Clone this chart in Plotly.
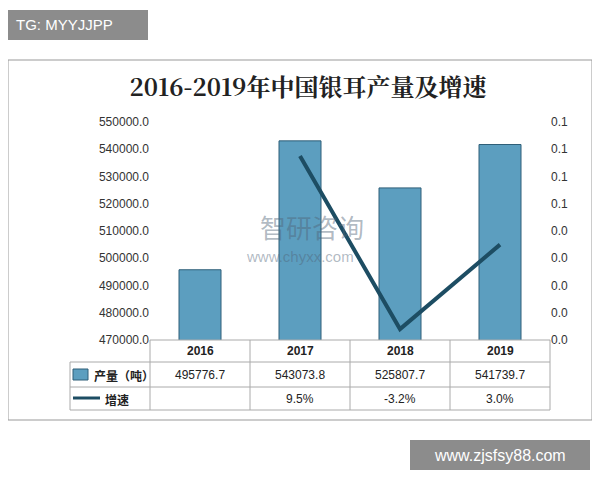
import plotly.graph_objects as go

years = ["2016", "2017", "2018", "2019"]
output = [495776.7, 543073.8, 525807.7, 541739.7]
growth_years = ["2017", "2018", "2019"]
growth = [0.095, -0.032, 0.030]
growth_labels = ["9.5%", "-3.2%", "3.0%"]
left_ticks = [470000 + 10000 * i for i in range(9)]
right_ticks = [-0.04 + 0.02 * i for i in range(9)]
right_ticktext = ["0.0"] * 5 + ["0.1"] * 4

# reference pixel coordinates (page has 8px body offset)
L, R, T, B = 150, 550, 122, 340
def px(x): return (x - L) / (R - L)
def py(y): return (B - y) / (B - T)

fig = go.Figure()
fig.add_bar(x=years, y=output, width=0.42, marker=dict(color="#5c9ebf", line=dict(color="#2f5f78", width=1)), showlegend=False)
fig.add_scatter(x=growth_years, y=growth, yaxis="y2", mode="lines", line=dict(color="#1d4d63", width=4), showlegend=False)

fig.update_layout(
    width=600, height=480, paper_bgcolor="white", plot_bgcolor="white",
    margin=dict(l=L - 8, r=600 - (R - 8), t=T - 8, b=480 - (B - 8)),
    xaxis=dict(showticklabels=False, showline=False, range=[-0.5, 3.5]),
    yaxis=dict(range=[470000, 550000], tickvals=left_ticks, tickformat=".1f", showgrid=False,
               tickfont=dict(size=12, color="#333", family="Liberation Sans"), ticks="", zeroline=False),
    yaxis2=dict(range=[-0.04, 0.12], overlaying="y", side="right", tickvals=right_ticks, ticktext=right_ticktext,
                showgrid=False, tickfont=dict(size=12, color="#333", family="Liberation Sans"), zeroline=False),
    title=dict(text="<b>2016-2019年中国银耳产量及增速</b>", x=0.5, y=0.835, xanchor="center", yanchor="middle",
               font=dict(size=24, family="Noto Serif CJK SC, Noto Sans CJK SC", color="#222")),
)

shapes = []
shapes.append(dict(type="rect", xref="paper", yref="paper", x0=px(8), x1=px(592), y0=py(420), y1=py(60),
                   line=dict(color="#999", width=1)))
rows = [340, 362, 387, 410]
for y in rows[1:]:
    shapes.append(dict(type="line", xref="paper", yref="paper", x0=px(70), x1=px(550), y0=py(y), y1=py(y), line=dict(color="#aaa", width=1)))
shapes.append(dict(type="line", xref="paper", yref="paper", x0=px(150), x1=px(550), y0=py(340), y1=py(340), line=dict(color="#aaa", width=1)))
for x in [150, 250, 350, 450, 550]:
    shapes.append(dict(type="line", xref="paper", yref="paper", x0=px(x), x1=px(x), y0=py(340), y1=py(410), line=dict(color="#aaa", width=1)))
shapes.append(dict(type="line", xref="paper", yref="paper", x0=px(70), x1=px(70), y0=py(362), y1=py(410), line=dict(color="#aaa", width=1)))
shapes.append(dict(type="rect", xref="paper", yref="paper", x0=px(73), x1=px(88), y0=py(380), y1=py(369), fillcolor="#5c9ebf", line=dict(color="#2f5f78", width=1)))
shapes.append(dict(type="line", xref="paper", yref="paper", x0=px(73), x1=px(100), y0=py(398), y1=py(398), line=dict(color="#1d4d63", width=3)))
shapes.append(dict(type="rect", xref="paper", yref="paper", x0=px(8), x1=px(148), y0=py(40), y1=py(10), fillcolor="#8c8c8c", line=dict(width=0)))
shapes.append(dict(type="rect", xref="paper", yref="paper", x0=px(410), x1=px(590), y0=py(470), y1=py(440), fillcolor="#8c8c8c", line=dict(width=0)))

ann = []
def A(text, x, y, font, xanchor="center"):
    ann.append(dict(text=text, x=px(x), y=py(y), xref="paper", yref="paper", showarrow=False,
                    xanchor=xanchor, yanchor="middle", font=font))

f = dict(family="Liberation Sans", size=12, color="#222")
for i, yr in enumerate(years):
    A("<b>" + yr + "</b>", 200 + 100 * i, 351, f)
    A("%.1f" % output[i], 200 + 100 * i, 375, f)
for i, g in enumerate(growth_labels):
    A(g, 300 + 100 * i, 399, f)
cj = dict(family="Noto Sans CJK SC", size=12, color="#222")
A("<b>产量（吨）</b>", 92, 375, cj, "left")
A("<b>增速</b>", 103, 399, cj, "left")
A("TG: MYYJJPP", 14, 25, dict(family="Liberation Sans", size=15, color="white"), "left")
A("www.zjsfsy88.com", 500, 455, dict(family="Liberation Sans", size=16, color="white"))
A("智研咨询", 312, 226, dict(family="Noto Sans CJK SC", size=26, color="rgba(80,100,120,0.45)"))
A("www.chyxx.com", 300, 256, dict(family="Liberation Sans", size=15, color="rgba(80,100,120,0.45)"))

fig.update_layout(shapes=shapes, annotations=ann)
fig.write_html("out.html")
